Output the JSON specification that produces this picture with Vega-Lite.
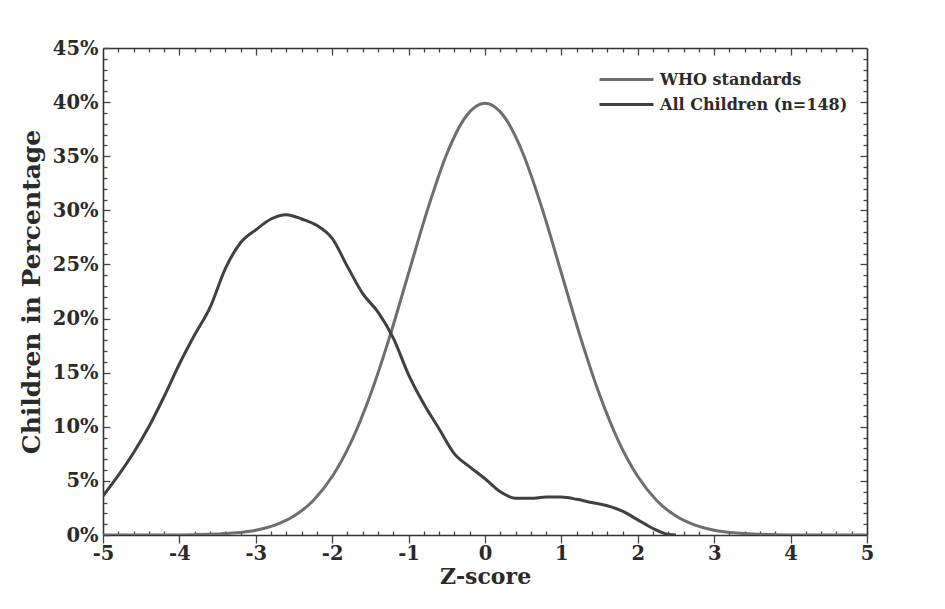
{
  "$schema": "https://vega.github.io/schema/vega-lite/v6.json",
  "width": 764,
  "height": 487,
  "autosize": {"type": "none"},
  "padding": {"left": 103, "top": 48, "right": 78, "bottom": 74},
  "background": "white",
  "config": {
    "view": {"stroke": null},
    "font": "DejaVu Serif",
    "axis": {
      "labelFont": "DejaVu Serif", "labelFontWeight": "bold", "labelFontSize": 19.5, "labelColor": "#2a2a2a",
      "titleFont": "DejaVu Serif", "titleFontWeight": "bold", "titleColor": "#2a2a2a",
      "domainColor": "#333", "domainWidth": 1.6, "tickColor": "#444", "tickWidth": 1.3, "grid": false
    }
  },
  "datasets": {
    "curves": [
      {"z": -5, "pct": 0.0, "series": "WHO standards"},
      {"z": -4.5, "pct": 0.0, "series": "WHO standards"},
      {"z": -4, "pct": 0.01, "series": "WHO standards"},
      {"z": -3.75, "pct": 0.04, "series": "WHO standards"},
      {"z": -3.5, "pct": 0.09, "series": "WHO standards"},
      {"z": -3.25, "pct": 0.2, "series": "WHO standards"},
      {"z": -3, "pct": 0.44, "series": "WHO standards"},
      {"z": -2.75, "pct": 0.91, "series": "WHO standards"},
      {"z": -2.5, "pct": 1.75, "series": "WHO standards"},
      {"z": -2.25, "pct": 3.17, "series": "WHO standards"},
      {"z": -2, "pct": 5.4, "series": "WHO standards"},
      {"z": -1.75, "pct": 8.63, "series": "WHO standards"},
      {"z": -1.5, "pct": 12.95, "series": "WHO standards"},
      {"z": -1.25, "pct": 18.26, "series": "WHO standards"},
      {"z": -1, "pct": 24.2, "series": "WHO standards"},
      {"z": -0.75, "pct": 30.11, "series": "WHO standards"},
      {"z": -0.5, "pct": 35.21, "series": "WHO standards"},
      {"z": -0.25, "pct": 38.67, "series": "WHO standards"},
      {"z": 0, "pct": 39.89, "series": "WHO standards"},
      {"z": 0.25, "pct": 38.67, "series": "WHO standards"},
      {"z": 0.5, "pct": 35.21, "series": "WHO standards"},
      {"z": 0.75, "pct": 30.11, "series": "WHO standards"},
      {"z": 1, "pct": 24.2, "series": "WHO standards"},
      {"z": 1.25, "pct": 18.26, "series": "WHO standards"},
      {"z": 1.5, "pct": 12.95, "series": "WHO standards"},
      {"z": 1.75, "pct": 8.63, "series": "WHO standards"},
      {"z": 2, "pct": 5.4, "series": "WHO standards"},
      {"z": 2.25, "pct": 3.17, "series": "WHO standards"},
      {"z": 2.5, "pct": 1.75, "series": "WHO standards"},
      {"z": 2.75, "pct": 0.91, "series": "WHO standards"},
      {"z": 3, "pct": 0.44, "series": "WHO standards"},
      {"z": 3.25, "pct": 0.2, "series": "WHO standards"},
      {"z": 3.5, "pct": 0.09, "series": "WHO standards"},
      {"z": 3.75, "pct": 0.04, "series": "WHO standards"},
      {"z": 4, "pct": 0.01, "series": "WHO standards"},
      {"z": 4.5, "pct": 0.0, "series": "WHO standards"},
      {"z": 5, "pct": 0.0, "series": "WHO standards"},
      {"z": -5, "pct": 3.6, "series": "All Children (n=148)"},
      {"z": -4.8, "pct": 5.5, "series": "All Children (n=148)"},
      {"z": -4.6, "pct": 7.6, "series": "All Children (n=148)"},
      {"z": -4.4, "pct": 10.0, "series": "All Children (n=148)"},
      {"z": -4.2, "pct": 12.8, "series": "All Children (n=148)"},
      {"z": -4.0, "pct": 15.8, "series": "All Children (n=148)"},
      {"z": -3.8, "pct": 18.5, "series": "All Children (n=148)"},
      {"z": -3.6, "pct": 21.0, "series": "All Children (n=148)"},
      {"z": -3.4, "pct": 24.6, "series": "All Children (n=148)"},
      {"z": -3.2, "pct": 27.0, "series": "All Children (n=148)"},
      {"z": -3.0, "pct": 28.2, "series": "All Children (n=148)"},
      {"z": -2.8, "pct": 29.2, "series": "All Children (n=148)"},
      {"z": -2.6, "pct": 29.6, "series": "All Children (n=148)"},
      {"z": -2.4, "pct": 29.2, "series": "All Children (n=148)"},
      {"z": -2.2, "pct": 28.6, "series": "All Children (n=148)"},
      {"z": -2.0, "pct": 27.4, "series": "All Children (n=148)"},
      {"z": -1.8, "pct": 24.8, "series": "All Children (n=148)"},
      {"z": -1.6, "pct": 22.3, "series": "All Children (n=148)"},
      {"z": -1.4, "pct": 20.6, "series": "All Children (n=148)"},
      {"z": -1.2, "pct": 18.2, "series": "All Children (n=148)"},
      {"z": -1.0, "pct": 14.8, "series": "All Children (n=148)"},
      {"z": -0.8, "pct": 12.1, "series": "All Children (n=148)"},
      {"z": -0.6, "pct": 9.8, "series": "All Children (n=148)"},
      {"z": -0.4, "pct": 7.5, "series": "All Children (n=148)"},
      {"z": -0.2, "pct": 6.3, "series": "All Children (n=148)"},
      {"z": 0.0, "pct": 5.2, "series": "All Children (n=148)"},
      {"z": 0.2, "pct": 4.0, "series": "All Children (n=148)"},
      {"z": 0.4, "pct": 3.4, "series": "All Children (n=148)"},
      {"z": 0.6, "pct": 3.4, "series": "All Children (n=148)"},
      {"z": 0.8, "pct": 3.5, "series": "All Children (n=148)"},
      {"z": 1.0, "pct": 3.5, "series": "All Children (n=148)"},
      {"z": 1.2, "pct": 3.3, "series": "All Children (n=148)"},
      {"z": 1.4, "pct": 3.0, "series": "All Children (n=148)"},
      {"z": 1.6, "pct": 2.7, "series": "All Children (n=148)"},
      {"z": 1.8, "pct": 2.2, "series": "All Children (n=148)"},
      {"z": 2.0, "pct": 1.4, "series": "All Children (n=148)"},
      {"z": 2.2, "pct": 0.6, "series": "All Children (n=148)"},
      {"z": 2.4, "pct": 0.05, "series": "All Children (n=148)"},
      {"z": 2.5, "pct": 0.0, "series": "All Children (n=148)"}
    ]
  },
  "data": {"name": "curves"},
  "layer": [
    {
      "mark": {"type": "line", "strokeWidth": 3, "interpolate": "monotone", "clip": true},
      "encoding": {
        "x": {"field": "z", "type": "quantitative",
          "scale": {"domain": [-5, 5], "nice": false, "zero": false},
          "axis": {"orient": "bottom", "values": [-5, -4, -3, -2, -1, 0, 1, 2, 3, 4, 5], "tickSize": 8,
            "labelExpr": "'' + round(datum.value)", "labelPadding": 1, "labelFlush": false,
            "title": "Z-score", "titleFontSize": 22, "titlePadding": 4}},
        "y": {"field": "pct", "type": "quantitative",
          "scale": {"domain": [0, 45], "nice": false},
          "axis": {"orient": "left", "values": [0, 5, 10, 15, 20, 25, 30, 35, 40, 45], "tickSize": -7,
            "labelExpr": "datum.value + '%'", "labelPadding": 12, "labelFlush": false,
            "title": "Children in Percentage", "titleFontSize": 25, "titlePadding": 8}},
        "color": {"field": "series", "type": "nominal",
          "scale": {"domain": ["WHO standards", "All Children (n=148)"], "range": ["#6e6e6e", "#404040"]},
          "legend": {"orient": "none", "legendX": 495, "legendY": 20, "title": null, "padding": 0,
            "symbolType": "M-1,0H4.4", "symbolSize": 400, "symbolStrokeWidth": 3,
            "labelFont": "DejaVu Serif", "labelFontWeight": "bold", "labelFontSize": 16, "labelColor": "#2a2a2a",
            "labelOffset": 39, "labelLimit": 400, "rowPadding": 5}}
      }
    },
    {
      "mark": {"type": "point", "opacity": 0},
      "encoding": {
        "x": {"field": "z", "type": "quantitative",
          "scale": {"domain": [-5, 5], "nice": false, "zero": false},
          "axis": {"orient": "bottom", "values": [-4.8,-4.6,-4.4,-4.2,-3.8,-3.6,-3.4,-3.2,-2.8,-2.6,-2.4,-2.2,-1.8,-1.6,-1.4,-1.2,-0.8,-0.6,-0.4,-0.2,0.2,0.4,0.6,0.8,1.2,1.4,1.6,1.8,2.2,2.4,2.6,2.8,3.2,3.4,3.6,3.8,4.2,4.4,4.6,4.8],
            "tickSize": -4, "labels": false, "domain": false, "title": null}},
        "y": {"field": "pct", "type": "quantitative",
          "scale": {"domain": [0, 45], "nice": false},
          "axis": {"orient": "left", "values": [1,2,3,4,6,7,8,9,11,12,13,14,16,17,18,19,21,22,23,24,26,27,28,29,31,32,33,34,36,37,38,39,41,42,43,44],
            "tickSize": -4, "labels": false, "domain": false, "title": null}}
      }
    },
    {
      "mark": {"type": "point", "opacity": 0},
      "encoding": {
        "x": {"field": "z", "type": "quantitative",
          "scale": {"domain": [-5, 5], "nice": false, "zero": false},
          "axis": {"orient": "top", "values": [-4.8,-4.6,-4.4,-4.2,-3.8,-3.6,-3.4,-3.2,-2.8,-2.6,-2.4,-2.2,-1.8,-1.6,-1.4,-1.2,-0.8,-0.6,-0.4,-0.2,0.2,0.4,0.6,0.8,1.2,1.4,1.6,1.8,2.2,2.4,2.6,2.8,3.2,3.4,3.6,3.8,4.2,4.4,4.6,4.8],
            "tickSize": -4, "labels": false, "domain": true, "title": null}},
        "y": {"field": "pct", "type": "quantitative",
          "scale": {"domain": [0, 45], "nice": false},
          "axis": {"orient": "right", "values": [1,2,3,4,6,7,8,9,11,12,13,14,16,17,18,19,21,22,23,24,26,27,28,29,31,32,33,34,36,37,38,39,41,42,43,44],
            "tickSize": -4, "labels": false, "domain": true, "title": null}}
      }
    },
    {
      "mark": {"type": "point", "opacity": 0},
      "encoding": {
        "x": {"field": "z", "type": "quantitative",
          "scale": {"domain": [-5, 5], "nice": false, "zero": false},
          "axis": {"orient": "top", "values": [-4, -3, -2, -1, 0, 1, 2, 3, 4], "tickSize": -7, "labels": false, "domain": false, "title": null}},
        "y": {"field": "pct", "type": "quantitative",
          "scale": {"domain": [0, 45], "nice": false},
          "axis": {"orient": "right", "values": [5, 10, 15, 20, 25, 30, 35, 40], "tickSize": -7, "labels": false, "domain": false, "title": null}}
      }
    }
  ],
  "resolve": {"axis": {"x": "independent", "y": "independent"}}
}
